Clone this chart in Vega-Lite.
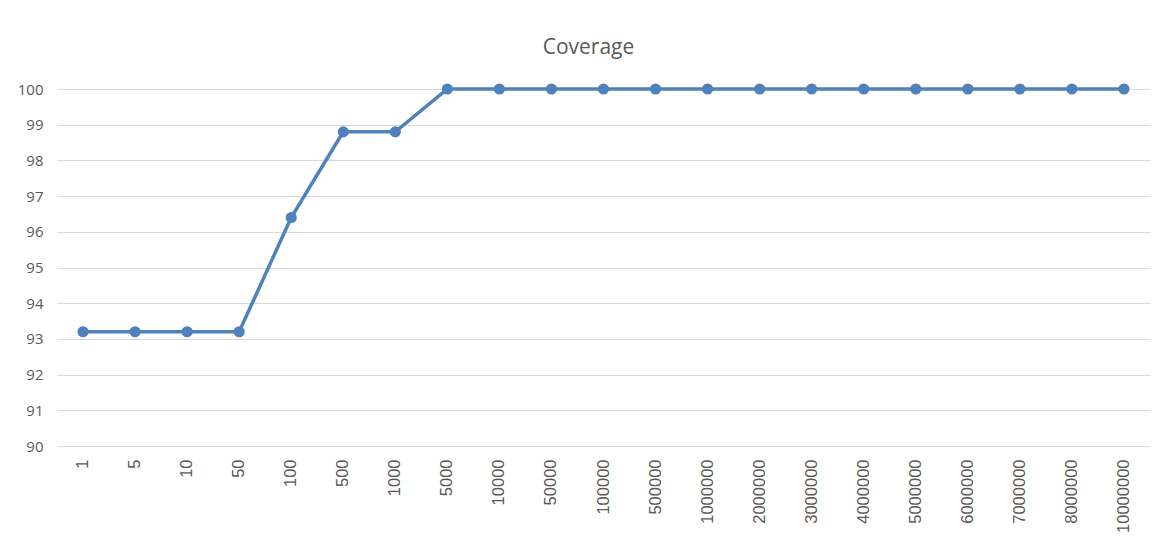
{
  "$schema": "https://vega.github.io/schema/vega-lite/v6.json",
  "autosize": {"type": "none"},
  "width": 1093,
  "height": 357,
  "padding": {"left": 57, "top": 89, "right": 18, "bottom": 104},
  "background": "white",
  "title": {
    "text": "Coverage",
    "fontSize": 21,
    "font": "Open Sans",
    "fontWeight": "normal",
    "color": "#595959",
    "anchor": "middle",
    "dx": -15,
    "offset": 24
  },
  "data": {
    "values": [
      {"n": "1", "coverage": 93.2},
      {"n": "5", "coverage": 93.2},
      {"n": "10", "coverage": 93.2},
      {"n": "50", "coverage": 93.2},
      {"n": "100", "coverage": 96.4},
      {"n": "500", "coverage": 98.8},
      {"n": "1000", "coverage": 98.8},
      {"n": "5000", "coverage": 100},
      {"n": "10000", "coverage": 100},
      {"n": "50000", "coverage": 100},
      {"n": "100000", "coverage": 100},
      {"n": "500000", "coverage": 100},
      {"n": "1000000", "coverage": 100},
      {"n": "2000000", "coverage": 100},
      {"n": "3000000", "coverage": 100},
      {"n": "4000000", "coverage": 100},
      {"n": "5000000", "coverage": 100},
      {"n": "6000000", "coverage": 100},
      {"n": "7000000", "coverage": 100},
      {"n": "8000000", "coverage": 100},
      {"n": "10000000", "coverage": 100}
    ]
  },
  "encoding": {
    "x": {
      "field": "n",
      "type": "ordinal",
      "sort": null,
      "scale": {"type": "band", "paddingInner": 0, "paddingOuter": 0},
      "axis": {
        "title": null,
        "labelAngle": -90,
        "labelAlign": "right",
        "labelBaseline": "middle",
        "labelPadding": 13,
        "labelFont": "Liberation Sans, Arial, sans-serif",
        "labelFontSize": 16.5,
        "labelColor": "#595959",
        "labelOverlap": false,
        "ticks": false,
        "domain": false,
        "grid": false
      }
    },
    "y": {
      "field": "coverage",
      "type": "quantitative",
      "scale": {"domain": [90, 100], "nice": false, "zero": false},
      "axis": {
        "title": null,
        "values": [90, 91, 92, 93, 94, 95, 96, 97, 98, 99, 100],
        "labelFont": "Open Sans",
        "labelFontSize": 15,
        "labelColor": "#595959",
        "labelPadding": 14,
        "ticks": false,
        "domain": false,
        "grid": true,
        "gridColor": "#d9d9d9",
        "gridWidth": 1
      }
    }
  },
  "layer": [
    {"mark": {"type": "line", "color": "#4f81bd", "strokeWidth": 3.5}},
    {"mark": {"type": "point", "filled": true, "color": "#4f81bd", "size": 125, "opacity": 1}}
  ],
  "config": {"view": {"stroke": null}}
}
